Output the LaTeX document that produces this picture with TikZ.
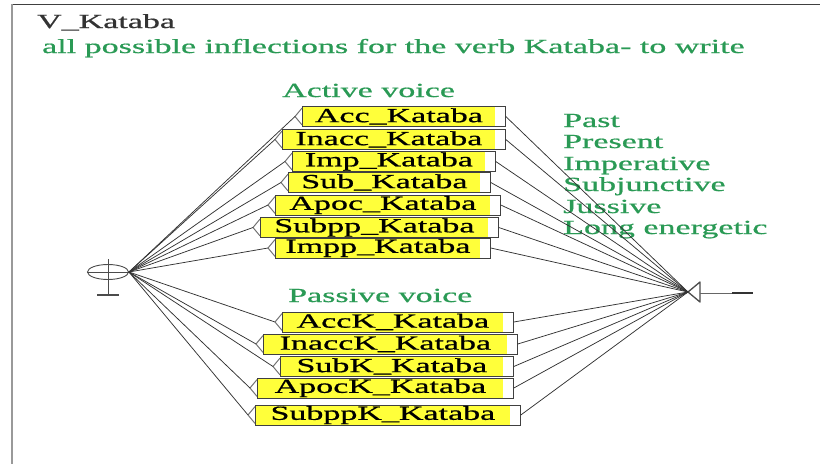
\documentclass[tikz,border=0pt]{standalone}
\usepackage{fontspec}
\usepackage{tikz}
\usetikzlibrary{arrows.meta, shapes.geometric}
\newfontfamily\gramfont[FakeStretch=1.7, FakeBold=0.8]{Liberation Serif}
\definecolor{gGreen}{HTML}{2A9A55}
\definecolor{gYellow}{HTML}{FFFF3A}
\definecolor{gTitle}{HTML}{333333}
\tikzset{
  gtext/.style={anchor=base west, inner sep=0pt,
                font=\gramfont\fontsize{20}{24}\selectfont},
  gcomment/.style={gtext, text=gGreen},
  gbox/.style={draw=black!75, line width=0.8pt, fill=gYellow, anchor=west,
               minimum height=20pt, inner sep=0pt,
               font=\gramfont\fontsize{20}{24}\selectfont,
               execute at end node=\hspace*{10pt},
               path picture={\fill[white] ([xshift=-10pt]path picture bounding box.north east)
                             rectangle (path picture bounding box.south east);}},
  gtri/.style={black!55, line width=1pt, line join=round},
  gin/.style={black!80, line width=0.75pt},
  gout/.style={black!80, line width=0.75pt},
  gstate/.style={black!70, line width=0.9pt},
}

\begin{document}
\begin{tikzpicture}[x=1pt, y=-1pt]
    \useasboundingbox (0,0) rectangle (820,464);
    % window frame
    \draw[black!75, line width=1.2pt] (12,4.5) -- (820,4.5);
    \draw[black!40, line width=2pt] (12,4) -- (12,464);
    % graph name and comment
    \node[gtext, text=gTitle] (name) at (37,28) {V\_Kataba};
    \node[gcomment] (descr) at (42,53) {all possible inflections for the verb Kataba- to write};
    \node[gcomment] (active)  at (282,97)  {Active voice};
    \node[gcomment] (passive) at (288,302) {Passive voice};
    % tense names
    \node[gcomment] (past)  at (563,127) {Past};
    \node[gcomment] (pres)  at (563,148) {Present};
    \node[gcomment] (imper) at (563,170) {Imperative};
    \node[gcomment] (subj)  at (563,191) {Subjunctive};
    \node[gcomment] (juss)  at (563,213) {Jussive};
    \node[gcomment] (longe) at (563,234) {Long energetic};
    % initial state
    \node[gstate, draw, ellipse, minimum width=41pt, minimum height=15pt, inner sep=0pt] (init) at (108,272) {};
    \draw[gstate] (init.west) -- (init.east);
    \draw[gstate] ([yshift=5pt]init.north) -- (108,295);
    \draw[gstate, line width=1.1pt] (97,295) -- (119,295);
    % final state
    \coordinate (fin) at (688,292);
    \draw[gstate, line width=1.3pt, line join=round] (fin) -- (700,282) -- (700,302) -- cycle;
    \draw[black!60, line width=0.8pt] (700,293) -- (732,293);
    \draw[black!80, line width=1.6pt] (732,293) -- (753,293);
    % active voice boxes
    \node[gbox, minimum width=203pt] (acc)   at (302,116.5) {Acc\_Kataba};
    \node[gbox, minimum width=223pt] (inacc) at (282,139.5) {Inacc\_Kataba};
    \node[gbox, minimum width=203pt] (imp)   at (292,161.5) {Imp\_Kataba};
    \node[gbox, minimum width=202pt] (sub)   at (288,182.5) {Sub\_Kataba};
    \node[gbox, minimum width=225pt] (apoc)  at (275,205)   {Apoc\_Kataba};
    \node[gbox, minimum width=238pt] (subpp) at (260,227.5) {Subpp\_Kataba};
    \node[gbox, minimum width=215pt] (impp)  at (275,248)   {Impp\_Kataba};
    % passive voice boxes
    \node[gbox, minimum width=231pt] (acck)   at (282,322)   {AccK\_Kataba};
    \node[gbox, minimum width=254pt] (inacck) at (263,344)   {InaccK\_Kataba};
    \node[gbox, minimum width=233pt] (subk)   at (280,366.5) {SubK\_Kataba};
    \node[gbox, minimum width=256pt] (apock)  at (257,388)   {ApocK\_Kataba};
    \node[gbox, minimum width=265pt] (subppk) at (255,415)   {SubppK\_Kataba};
    % transitions, with the input mark on each box
    \foreach \b in {acc,inacc,imp,sub,apoc,subpp,impp,acck,inacck,subk,apock,subppk} {
      \draw[gtri] ([yshift=-2pt]\b.north west) -- ([xshift=-7pt]\b.west) -- ([yshift=2pt]\b.south west);
      \draw[gin] (init.east) -- ([xshift=-7pt]\b.west);
      \draw[gout] (\b.east) -- (fin);
    }
\end{tikzpicture}
\end{document}
